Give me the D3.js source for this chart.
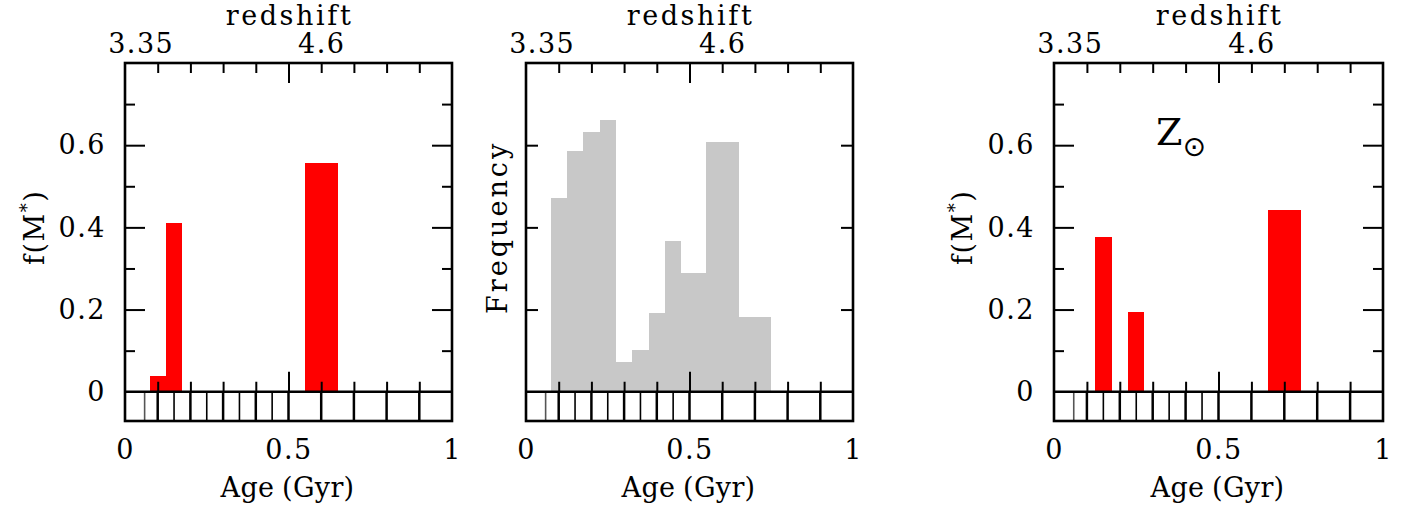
<!DOCTYPE html>
<html>
<head>
<meta charset="utf-8">
<script src="https://cdn.jsdelivr.net/npm/d3@7"></script>
<style>
  html, body { margin: 0; padding: 0; background: #fff; }
  svg text { font-family: "DejaVu Serif", serif; fill: #000; }
</style>
</head>
<body>
<svg id="chart" width="1412" height="514"></svg>
<script>
// ---------------- data ----------------
const xTickLabels = ["0", "0.5", "1"];
const xTickValues = [0, 0.5, 1];
const yTickLabels = ["0", "0.2", "0.4", "0.6"];
const yTickValues = [0, 0.2, 0.4, 0.6];
const redshiftLabels = ["3.35", "4.6"];
const redshiftAges = [0.048, 0.6];
const modelAges = [0.06, 0.1, 0.15, 0.2, 0.25, 0.3, 0.35, 0.4, 0.45, 0.5, 0.6, 0.7, 0.8, 0.9];

const panel1Ages = [0.1, 0.15, 0.6];
const panel1Widths = [0.05, 0.05, 0.1];
const panel1Values = [0.038, 0.41, 0.556];

const histEdges = [0.075, 0.125, 0.175, 0.225, 0.275, 0.325, 0.375, 0.425, 0.475, 0.55, 0.65, 0.75];
const histValues = [0.472, 0.587, 0.632, 0.661, 0.072, 0.102, 0.192, 0.368, 0.290, 0.607, 0.182];

const panel3Ages = [0.15, 0.25, 0.7];
const panel3Widths = [0.05, 0.05, 0.1];
const panel3Values = [0.376, 0.193, 0.443];

// ---------------- layout ----------------
const svg = d3.select("#chart");
const FS = 27, LS = "1.5px";
const yTop = 63, yBot = 421;
const y = d3.scaleLinear().domain([-0.0712, 0.8]).range([yBot, yTop]);

const panels = [
  { x0: 125, x1: 452, type: "bars", ages: panel1Ages, widths: panel1Widths, values: panel1Values, ylab: "f(M*)", yLabX: 34, numbers: true },
  { x0: 526, x1: 853, type: "hist", ylab: "Frequency", yLabX: 497, numbers: false },
  { x0: 1054, x1: 1383, type: "bars", ages: panel3Ages, widths: panel3Widths, values: panel3Values, ylab: "f(M*)", yLabX: 962, numbers: true, z: true }
];

function styleAxis(g) {
  g.select(".domain").remove();
  g.selectAll(".tick line").attr("stroke", "#000").attr("stroke-width", 2);
  g.selectAll("text").attr("font-family", "DejaVu Serif").attr("font-size", FS)
    .attr("letter-spacing", LS).attr("fill", "#000");
}

panels.forEach(p => {
  const x = d3.scaleLinear().domain([0, 1]).range([p.x0, p.x1]);
  const g = svg.append("g");

  // marks
  if (p.type === "bars") {
    g.selectAll("rect.bar").data(p.values).enter().append("rect")
      .attr("x", (d, i) => x(p.ages[i] - p.widths[i] / 2))
      .attr("width", (d, i) => x(p.ages[i] + p.widths[i] / 2) - x(p.ages[i] - p.widths[i] / 2))
      .attr("y", d => y(d))
      .attr("height", d => y(0) - y(d))
      .attr("fill", "#ff0000")
      .attr("shape-rendering", "crispEdges");
  } else {
    g.selectAll("rect.bar").data(histValues).enter().append("rect")
      .attr("x", (d, i) => x(histEdges[i]))
      .attr("width", (d, i) => x(histEdges[i + 1]) - x(histEdges[i]))
      .attr("y", d => y(d))
      .attr("height", d => y(0) - y(d))
      .attr("fill", "#c8c8c8")
      .attr("shape-rendering", "crispEdges");
  }

  // model-age strip lines
  g.selectAll("line.strip").data(modelAges).enter().append("line")
    .attr("x1", d => x(d)).attr("x2", d => x(d))
    .attr("y1", y(0)).attr("y2", yBot)
    .attr("stroke", d => d < 0.08 ? "#555" : "#000")
    .attr("stroke-width", d => (Math.abs(d * 10 - Math.round(d * 10)) < 1e-6) ? 2.5 : 1.6);

  // zero line
  g.append("line").attr("x1", p.x0).attr("x2", p.x1).attr("y1", y(0)).attr("y2", y(0))
    .attr("stroke", "#000").attr("stroke-width", 2.6);

  // inner x ticks (bottom, pointing up) and top ticks
  const minorX = d3.range(1, 10).map(d => d / 10).filter(d => Math.abs(d - 0.5) > 1e-6);
  [[minorX, 10], [[0.5], 20]].forEach(([vals, len]) => {
    g.append("g").attr("transform", `translate(0,${y(0)})`)
      .call(d3.axisTop(x).tickValues(vals).tickSize(len).tickFormat("")).call(styleAxis);
    g.append("g").attr("transform", `translate(0,${yTop})`)
      .call(d3.axisBottom(x).tickValues(vals).tickSize(len).tickFormat("")).call(styleAxis);
  });

  // y ticks
  if (p.numbers) {
    [[[0.1, 0.3, 0.5, 0.7], 10], [[0.2, 0.4, 0.6], 20]].forEach(([vals, len]) => {
      g.append("g").attr("transform", `translate(${p.x0},0)`)
        .call(d3.axisRight(y).tickValues(vals).tickSize(len).tickFormat("")).call(styleAxis);
      g.append("g").attr("transform", `translate(${p.x1},0)`)
        .call(d3.axisLeft(y).tickValues(vals).tickSize(len).tickFormat("")).call(styleAxis);
    });
    g.append("g").attr("transform", `translate(${p.x0},0)`)
      .call(d3.axisLeft(y).tickValues(yTickValues).tickSize(0).tickPadding(19)
        .tickFormat((d, i) => yTickLabels[i])).call(styleAxis);
  } else {
    g.append("g").attr("transform", `translate(${p.x0},0)`)
      .call(d3.axisRight(y).tickValues([0.2, 0.4, 0.6]).tickSize(12).tickFormat("")).call(styleAxis);
    g.append("g").attr("transform", `translate(${p.x1},0)`)
      .call(d3.axisLeft(y).tickValues([0.2, 0.4, 0.6]).tickSize(12).tickFormat("")).call(styleAxis);
  }

  // frame
  g.append("rect").attr("x", p.x0).attr("y", yTop).attr("width", p.x1 - p.x0).attr("height", yBot - yTop)
    .attr("fill", "none").attr("stroke", "#000").attr("stroke-width", 2.6);

  // bottom labels
  g.append("g").attr("transform", `translate(0,${yBot})`)
    .call(d3.axisBottom(x).tickValues(xTickValues).tickSize(0).tickPadding(19)
      .tickFormat((d, i) => xTickLabels[i])).call(styleAxis);
  // top redshift labels
  g.append("g").attr("transform", `translate(0,${yTop})`)
    .call(d3.axisTop(x).tickValues(redshiftAges).tickSize(0).tickPadding(10)
      .tickFormat((d, i) => redshiftLabels[i])).call(styleAxis);

  // titles
  const cx = (p.x0 + p.x1) / 2;
  g.append("text").attr("x", cx + 1).attr("y", 25).attr("text-anchor", "middle")
    .attr("font-size", FS).attr("letter-spacing", "2.6px").text("redshift");
  g.append("text").attr("x", cx - 1).attr("y", 497).attr("text-anchor", "middle")
    .attr("font-size", FS).attr("letter-spacing", "0.3px").attr("word-spacing", "-1px").text("Age (Gyr)");

  const yl = g.append("text").attr("transform", `translate(${p.yLabX},${y(0.4)}) rotate(-90)`)
    .attr("text-anchor", "middle").attr("dominant-baseline", "central")
    .attr("font-size", FS).attr("letter-spacing", LS);
  if (p.ylab === "f(M*)") {
    yl.append("tspan").text("f(M");
    yl.append("tspan").attr("font-size", 18).attr("dy", -8).text("*");
    yl.append("tspan").attr("dy", 8).text(")");
  } else {
    yl.attr("letter-spacing", "3px").text(p.ylab);
  }

  if (p.z) {
    const zt = g.append("text").attr("x", x(0.31)).attr("y", y(0.6)).attr("font-size", 38);
    zt.append("tspan").text("Z");
    zt.append("tspan").attr("font-family", "DejaVu Sans").attr("font-size", 28).attr("dx", 0).attr("dy", 11).text("⊙");
  }
});
</script>
</body>
</html>
